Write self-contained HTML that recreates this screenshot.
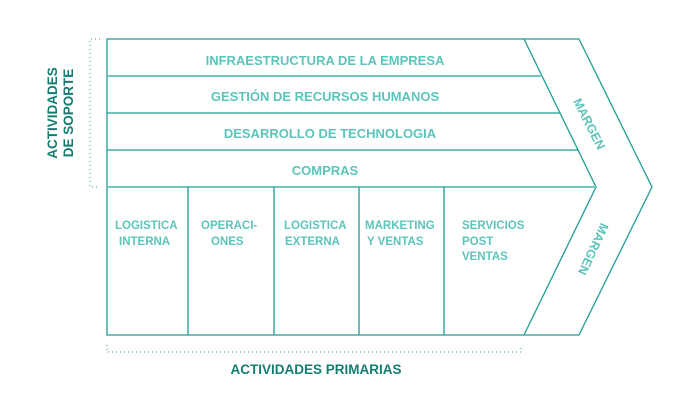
<!DOCTYPE html>
<html><head><meta charset="utf-8"><style>
body{margin:0;background:#fff;}
svg text{font-family:"Liberation Sans",sans-serif;font-weight:bold;}
</style></head><body>
<svg width="700" height="400" viewBox="0 0 700 400" xmlns="http://www.w3.org/2000/svg">
<g fill="none" stroke="#1f9e93" stroke-width="1.3">
<polygon points="107,39 579,39 652,187 579,335 107,335"/>
<polyline points="524,39 596,187 524,335"/>
<line x1="107" y1="76" x2="542" y2="76" stroke="#6fc8c0" stroke-width="2"/>
<line x1="107" y1="113" x2="560" y2="113"/>
<line x1="107" y1="150" x2="578" y2="150"/>
<line x1="107" y1="187" x2="596" y2="187" stroke="#6fc8c0" stroke-width="2"/>
<line x1="188" y1="187" x2="188" y2="335"/>
<line x1="274" y1="187" x2="274" y2="335"/>
<line x1="359" y1="187" x2="359" y2="335"/>
<line x1="444" y1="187" x2="444" y2="335"/>
</g>
<g stroke="#2a9d92" stroke-width="1" stroke-dasharray="1,3" fill="none">
<polyline points="100,39 90,39 90,187 100,187"/>
<polyline points="107,345 107,352 521,352 521,345"/>
</g>
<g fill="#5cc4bb" font-size="13" text-anchor="middle">
<text x="325" y="65">INFRAESTRUCTURA DE LA EMPRESA</text>
<text x="325" y="101">GESTIÓN DE RECURSOS HUMANOS</text>
<text x="330" y="138">DESARROLLO DE TECHNOLOGIA</text>
<text x="325" y="175">COMPRAS</text>
</g>
<g fill="#5cc4bb" font-size="11.5">
<text x="115" y="229">LOGISTICA</text><text x="119" y="245">INTERNA</text>
<text x="201" y="229">OPERACI-</text><text x="211" y="245">ONES</text>
<text x="284" y="229">LOGISTICA</text><text x="285" y="245">EXTERNA</text>
<text x="365" y="229">MARKETING</text><text x="367" y="245">Y VENTAS</text>
<text x="462" y="229">SERVICIOS</text><text x="462" y="245">POST</text><text x="462" y="260">VENTAS</text>
</g>
<g fill="#5cc4bb" font-size="12.5" text-anchor="middle">
<text transform="translate(589,124) rotate(63)" dy="4">MARGEN</text>
<text transform="translate(593,249) rotate(115)" dy="4">MARGEN</text>
</g>
<g fill="#137d74" font-size="13.5" text-anchor="middle">
<text transform="translate(57,113) rotate(-90)">ACTIVIDADES</text>
<text transform="translate(73,113) rotate(-90)">DE SOPORTE</text>
<text x="316" y="374">ACTIVIDADES PRIMARIAS</text>
</g>
</svg>
</body></html>
